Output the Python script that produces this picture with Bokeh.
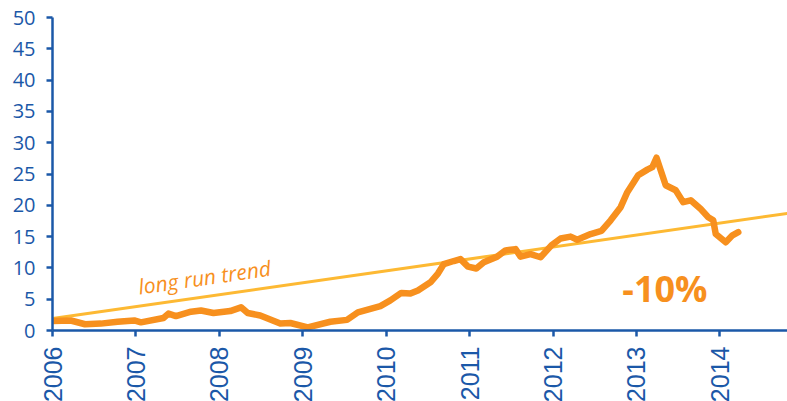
import math
from bokeh.plotting import figure
from bokeh.models import ColumnDataSource, FixedTicker, Range1d, BasicTickFormatter
from bokeh.core.properties import value
from bokeh.embed import file_html
from bokeh.resources import INLINE

# Price series (decimal years)
dates = [2006.00, 2006.22, 2006.39, 2006.58, 2006.78, 2006.98, 2007.06, 2007.33, 2007.39, 2007.48,
         2007.66, 2007.78, 2007.93, 2008.13, 2008.26, 2008.34, 2008.49, 2008.73, 2008.85, 2009.06,
         2009.33, 2009.53, 2009.66, 2009.93, 2010.05, 2010.18, 2010.29, 2010.38, 2010.53, 2010.62,
         2010.69, 2010.81, 2010.89, 2010.98, 2011.08, 2011.17, 2011.33, 2011.43, 2011.55, 2011.61,
         2011.73, 2011.85, 2011.98, 2012.09, 2012.21, 2012.29, 2012.45, 2012.58, 2012.69, 2012.81,
         2012.89, 2013.02, 2013.13, 2013.19, 2013.24, 2013.29, 2013.35, 2013.47, 2013.56, 2013.65,
         2013.77, 2013.86, 2013.92, 2013.95, 2014.07, 2014.15, 2014.22]
values = [1.5, 1.6, 1.0, 1.1, 1.4, 1.6, 1.3, 2.0, 2.7, 2.3,
          3.0, 3.2, 2.8, 3.1, 3.7, 2.8, 2.4, 1.1, 1.2, 0.5,
          1.4, 1.7, 2.9, 3.9, 4.8, 6.0, 5.9, 6.4, 7.7, 9.1,
          10.6, 11.1, 11.4, 10.2, 9.9, 10.9, 11.8, 12.8, 13.0, 11.8,
          12.2, 11.7, 13.6, 14.7, 15.0, 14.5, 15.4, 15.9, 17.6, 19.7,
          22.1, 24.8, 25.7, 26.1, 27.6, 25.6, 23.2, 22.4, 20.5, 20.8,
          19.4, 18.1, 17.6, 15.4, 14.1, 15.2, 15.7]

# Long run trend
trend_x = [2006.0, 2014.81]
trend_y = [1.9, 18.7]

year_ticks = [2006, 2007, 2008, 2009, 2010, 2011, 2012, 2013, 2014]
value_ticks = [0, 5, 10, 15, 20, 25, 30, 35, 40, 45, 50]

trend_label = "long run trend"
change_label = "-10%"

BLUE = "#1B58A8"
ORANGE = "#F7901E"
YELLOW = "#FDB933"

p = figure(width=787, height=405, output_backend="svg", toolbar_location=None,
           x_range=Range1d(2006.0, 2014.81), y_range=Range1d(0, 50),
           min_border_left=52, min_border_right=0, min_border_top=17, min_border_bottom=67)
p.outline_line_color = None
p.xgrid.visible = False
p.ygrid.visible = False
p.background_fill_color = "white"

p.line(trend_x, trend_y, line_color=YELLOW, line_width=3)
p.line(dates, values, line_color=ORANGE, line_width=6.5, line_join="round", line_cap="round")

src = ColumnDataSource(dict(x=[2007.03], y=[7.0], t=[trend_label]))
p.text(x="x", y="y", text="t", source=src, text_color=ORANGE, text_font=value("Open Sans"),
       text_font_style="italic", text_font_size="21px", angle=0.143,
       text_align="left", text_baseline="alphabetic")
src2 = ColumnDataSource(dict(x=[2012.83], y=[6.7], t=[change_label]))
p.text(x="x", y="y", text="t", source=src2, text_color=ORANGE, text_font=value("Open Sans"),
       text_font_style="bold", text_font_size="36px",
       text_align="left", text_baseline="alphabetic")

for ax in (p.xaxis[0], p.yaxis[0]):
    ax.axis_line_color = BLUE
    ax.axis_line_width = 2.5
    ax.major_tick_line_color = BLUE
    ax.major_tick_line_width = 2.5
    ax.major_tick_in = 0
    ax.major_tick_out = 6
    ax.minor_tick_line_color = None
    ax.major_label_text_color = BLUE

p.yaxis.ticker = FixedTicker(ticks=value_ticks)
p.yaxis.major_label_text_font = "Open Sans"
p.yaxis.major_label_text_font_size = "20px"
p.yaxis.major_label_standoff = 11

p.xaxis.ticker = FixedTicker(ticks=year_ticks)
p.xaxis.formatter = BasicTickFormatter(use_scientific=False)
p.xaxis.major_label_orientation = math.pi / 2
p.xaxis.major_label_text_font = "Liberation Sans"
p.xaxis.major_label_text_font_size = "25px"
p.xaxis.major_label_standoff = 10

open("out.html", "w").write(file_html(p, INLINE))
